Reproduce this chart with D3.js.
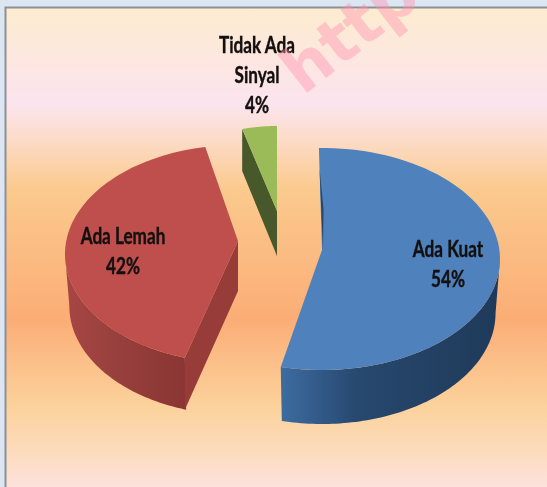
<!DOCTYPE html>
<html>
<head>
<meta charset="utf-8">
<script src="https://cdn.jsdelivr.net/npm/d3@7"></script>
<style>
  html, body { margin: 0; padding: 0; background: #dce6f2; overflow: hidden; }
  svg { display: block; filter: blur(0.5px); }
  .lbl { font: bold 22px Lato, sans-serif; fill: #14100f; stroke: #14100f; stroke-width: 0.4px; text-anchor: middle; }
</style>
</head>
<body>
<script>
// chart data
const categories = ['Ada Kuat', 'Ada Lemah', 'Tidak Ada Sinyal'];
const values = [54, 42, 4];
const labelLines = [['Ada Kuat'], ['Ada Lemah'], ['Tidak Ada', 'Sinyal']];

const width = 547;
const height = 487;

// the original is a tilted, exploded excel pie, so every slice has its own ellipse
const geom = [
  {ax: 322, ay: 250, cx: 322, cy: 259, rx: 178, ry: 111, depth: 54, cutDepth: 53, rot: -1,
   top: '#4f81bd', cut: '#24446b', wall: ['#3d6ca0', '#27486f', '#1f3a59'], label: [448, 257]},
  {ax: 238, ay: 241, cx: 238, cy: 254, rx: 173, ry: 109, depth: 52, cutDepth: 50, rot: 3.5,
   top: '#be4f4d', cut: '#983c3a', wall: ['#a84644', '#9a413e', '#8a3634'], label: [123, 244]},
  {ax: 277, ay: 211, cx: 277, cy: 222, rx: 140, ry: 96, depth: 42, cutDepth: 45, rot: 0,
   top: '#9bbb59', cut: '#47582a', wall: ['#47582a', '#47582a', '#47582a'], label: [257, 53]}
];

const bgStops = [
  [0, '#fdeccf'], [0.12, '#fde6e2'], [0.2, '#fbe4ee'], [0.27, '#fcdcc8'], [0.37, '#fbca8e'],
  [0.64, '#fbad76'], [0.82, '#fcd29c'], [0.92, '#fcdcc0'], [1, '#fde3e3']
];

const svg = d3.select('body').append('svg')
    .attr('width', width)
    .attr('height', height);

const defs = svg.append('defs');

const bg = defs.append('linearGradient')
    .attr('id', 'bg').attr('x1', 0).attr('x2', 0).attr('y1', 0).attr('y2', 1);
bg.selectAll('stop').data(bgStops).join('stop')
    .attr('offset', d => d[0])
    .attr('stop-color', d => d[1]);

svg.append('rect').attr('width', width).attr('height', height).attr('fill', '#dce6f2');
svg.append('rect')
    .attr('x', 5.5).attr('y', 7.5)
    .attr('width', width).attr('height', height)
    .attr('fill', 'url(#bg)')
    .attr('stroke', '#8b9096')
    .attr('stroke-width', 2);

const toRad = d3.scaleLinear().domain([0, 360]).range([0, 2 * Math.PI]);

const slices = d3.pie().sort(null).value(d => d)(values);

const line = d3.line().x(d => d[0]).y(d => d[1]);

function point(g, a) {
  const t = a + toRad(g.rot);
  return [g.cx + g.rx * Math.sin(t), g.cy - g.ry * Math.cos(t)];
}

function arcPoints(g, a0, a1) {
  const step = (a1 - a0) / 80;
  return d3.range(81).map(i => point(g, a0 + i * step));
}

const pieG = svg.append('g');
const lowShrink = 0.975; // bottom rim is a bit narrower than the top one

slices.forEach((s, i) => {
  const g = geom[i];
  const gid = 'wall' + i;

  // outer wall: only the part of the rim facing the viewer
  const rot = toRad(g.rot);
  const w0 = Math.max(s.startAngle, Math.PI / 2 - rot);
  const w1 = Math.min(s.endAngle, 3 * Math.PI / 2 - rot);
  if (w1 > w0) {
    const rim = arcPoints(g, w0, w1);
    const xs = d3.extent(rim, d => d[0]);
    const grad = defs.append('linearGradient')
        .attr('id', gid)
        .attr('gradientUnits', 'userSpaceOnUse')
        .attr('x1', xs[0])
        .attr('x2', xs[1]);
    grad.selectAll('stop').data(g.wall).join('stop')
        .attr('offset', (d, k) => k == 0 ? 0 : (k == 1 ? 0.35 : 1))
        .attr('stop-color', d => d);
    const low = rim.slice().reverse()
        .map(d => [g.cx + (d[0] - g.cx) * lowShrink, d[1] + g.depth]);
    pieG.append('path')
        .attr('d', line(rim.concat(low)) + 'Z')
        .attr('fill', `url(#${gid})`);
  }

  // cut face, green and red show the wall between apex and rim
  if (i > 0) {
    const p = point(g, s.startAngle);
    pieG.append('path')
        .attr('d', line([[g.ax, g.ay], p, [p[0], p[1] + g.depth], [g.ax, g.ay + g.cutDepth]]) + 'Z')
        .attr('fill', g.cut);
  }

  // top face
  const rim = arcPoints(g, s.startAngle, s.endAngle);
  pieG.append('path')
      .attr('d', line([[g.ax, g.ay]].concat(rim)) + 'Z')
      .attr('fill', g.top);

  // thin dark sliver on the blue slice
  if (i == 0) {
    const p = point(g, s.startAngle);
    pieG.append('path')
        .attr('d', line([
          [p[0] + (g.ax - p[0]) * 0.2, p[1] + (g.ay - p[1]) * 0.2],
          [g.ax + 1, g.ay],
          [g.ax + 1.5, p[1] + (g.ay - p[1]) * 0.6]
        ]) + 'Z')
        .attr('fill', g.cut);
  }
});

// labels
const condense = 0.78;
const lineGap = 30;
slices.forEach((s, i) => {
  const g = geom[i];
  const lines = labelLines[i].concat(values[i] + '%');
  lines.forEach((t, k) => {
    svg.append('text')
        .attr('class', 'lbl')
        .attr('transform', `translate(${g.label[0]},${g.label[1] + k * lineGap}) scale(${condense},1)`)
        .text(t);
  });
});

// pink watermark running off the top
svg.append('text')
    .attr('transform', 'translate(303,96) rotate(-38)')
    .attr('font-family', 'DejaVu Sans, sans-serif')
    .attr('font-weight', 'bold')
    .attr('font-size', 64)
    .attr('fill', '#ff8fae')
    .attr('fill-opacity', 0.42)
    .text('http:');
</script>
</body>
</html>
